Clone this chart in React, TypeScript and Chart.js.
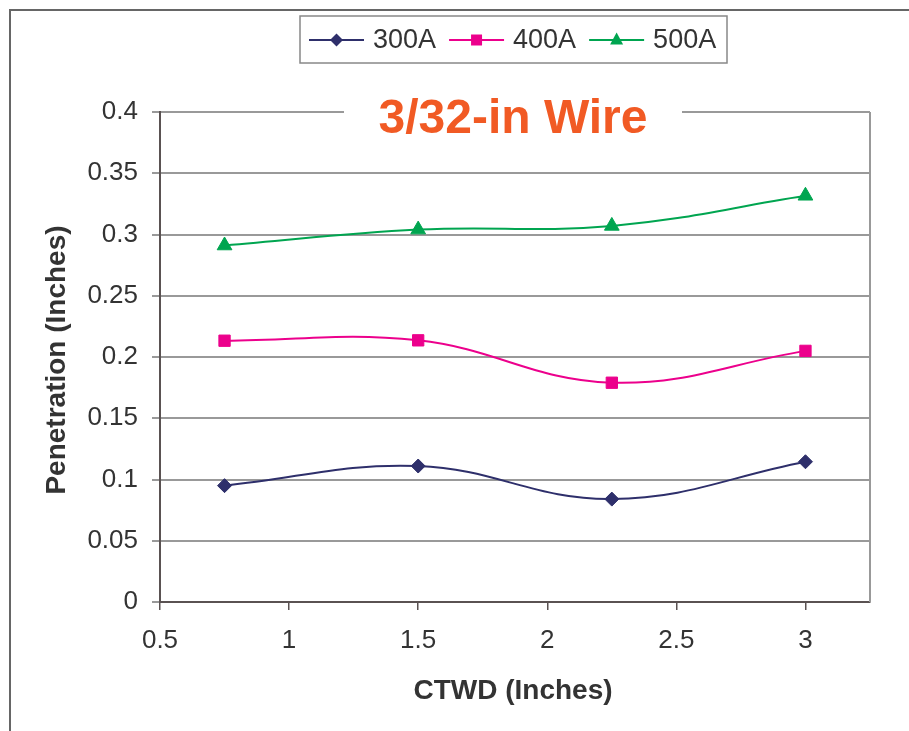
import React, { useEffect, useRef } from 'react';
import { Chart, registerables } from 'chart.js';

Chart.register(...registerables);

// ---- data ----
const ctwd = [0.75, 1.5, 2.25, 3];
const pen300 = [0.095, 0.111, 0.084, 0.1145];
const pen400 = [0.2133, 0.2136, 0.179, 0.205];
const pen500 = [0.291, 0.304, 0.307, 0.3316];
const seriesNames = ['300A', '400A', '500A'];
const seriesColors = ['#2E2F6B', '#EC008C', '#00A550'];
const seriesMarkers = ['rectRot', 'rect', 'triangle'];
const xTickValues = [0.5, 1, 1.5, 2, 2.5, 3];
const yTickValues = [0, 0.05, 0.1, 0.15, 0.2, 0.25, 0.3, 0.35, 0.4];
const chartTitle = '3/32-in Wire';
const xTitle = 'CTWD (Inches)';
const yTitle = 'Penetration (Inches)';

const FONT = "'Liberation Sans', Arial, Helvetica, sans-serif";
const TEXT = '#333333';
const GRID = '#999999';
const AXIS = '#5a5252';

function drawMarker(ctx: CanvasRenderingContext2D, kind: string, x: number, y: number, color: string) {
  ctx.save();
  ctx.fillStyle = color;
  ctx.beginPath();
  if (kind === 'rectRot') {
    const r = 6.5;
    ctx.moveTo(x, y - r);
    ctx.lineTo(x + r, y);
    ctx.lineTo(x, y + r);
    ctx.lineTo(x - r, y);
    ctx.closePath();
  } else if (kind === 'rect') {
    const s = 5.5;
    ctx.rect(x - s, y - s, 2 * s, 2 * s);
  } else {
    const r = 7.5;
    ctx.moveTo(x, y - r);
    ctx.lineTo(x + r * 0.866, y + r * 0.6);
    ctx.lineTo(x - r * 0.866, y + r * 0.6);
    ctx.closePath();
  }
  ctx.fill();
  ctx.restore();
}

const decorPlugin = {
  id: 'decor',
  beforeDraw(chart: any) {
    const ctx = chart.ctx as CanvasRenderingContext2D;
    ctx.save();
    ctx.fillStyle = '#ffffff';
    ctx.fillRect(0, 0, chart.width, chart.height);
    // outer frame (top & left visible)
    ctx.strokeStyle = '#666666';
    ctx.lineWidth = 2;
    ctx.beginPath();
    ctx.moveTo(10, chart.height);
    ctx.lineTo(10, 10);
    ctx.lineTo(chart.width, 10);
    ctx.stroke();
    ctx.restore();
  },
  afterDraw(chart: any) {
    const ctx = chart.ctx as CanvasRenderingContext2D;
    const area = chart.chartArea;
    ctx.save();
    // right border of plot area
    ctx.strokeStyle = GRID;
    ctx.lineWidth = 2;
    ctx.beginPath();
    ctx.moveTo(area.right, area.top);
    ctx.lineTo(area.right, area.bottom);
    ctx.stroke();

    // chart title with white background
    const cx = (area.left + area.right) / 2 - 2;
    ctx.fillStyle = '#ffffff';
    ctx.fillRect(cx - 169, area.top - 22, 338, 48);
    ctx.font = `bold 48px ${FONT}`;
    ctx.fillStyle = '#F15A24';
    ctx.textAlign = 'center';
    ctx.textBaseline = 'alphabetic';
    ctx.fillText(chartTitle, cx, 133);

    // axis titles
    ctx.fillStyle = TEXT;
    ctx.font = `bold 28px ${FONT}`;
    ctx.fillText(xTitle, (area.left + area.right) / 2 - 2, 699);
    ctx.save();
    ctx.translate(65, (area.top + area.bottom) / 2 + 3);
    ctx.rotate(-Math.PI / 2);
    ctx.fillText(yTitle, 0, 0);
    ctx.restore();

    // legend
    ctx.strokeStyle = '#888888';
    ctx.lineWidth = 1.5;
    ctx.strokeRect(300, 16, 427, 47);
    ctx.font = `27px ${FONT}`;
    ctx.textAlign = 'left';
    let x = 309;
    chart.data.datasets.forEach((ds: any, i: number) => {
      ctx.strokeStyle = ds.borderColor;
      ctx.lineWidth = 2;
      ctx.beginPath();
      ctx.moveTo(x, 40);
      ctx.lineTo(x + 55, 40);
      ctx.stroke();
      drawMarker(ctx, seriesMarkers[i], x + 27.5, 40, ds.borderColor);
      ctx.fillStyle = TEXT;
      ctx.fillText(ds.label, x + 64, 48);
      x += 64 + ctx.measureText(ds.label).width + 13;
    });
    ctx.restore();
  },
};

export default function App() {
  const ref = useRef<HTMLCanvasElement | null>(null);

  useEffect(() => {
    document.body.style.margin = '0';
    const canvas = ref.current;
    if (!canvas) return;
    const seriesValues = [pen300, pen400, pen500];
    const chart = new Chart(canvas, {
      type: 'line',
      data: {
        datasets: seriesNames.map((name, i) => ({
          label: name,
          data: ctwd.map((x, j) => ({ x, y: seriesValues[i][j] })),
          borderColor: seriesColors[i],
          backgroundColor: seriesColors[i],
          pointBackgroundColor: seriesColors[i],
          pointBorderColor: seriesColors[i],
          pointStyle: seriesMarkers[i] as any,
          pointRadius: i === 0 ? 7 : i === 1 ? 8 : 8.5,
          pointBorderWidth: 1,
          borderWidth: 2,
          tension: 0.4,
          fill: false,
        })),
      },
      options: {
        animation: false,
        responsive: false,
        devicePixelRatio: 1,
        layout: { padding: { left: 0, right: 39, top: 112, bottom: 0 } },
        plugins: {
          legend: { display: false },
          title: { display: false },
          tooltip: { enabled: false },
        },
        scales: {
          x: {
            type: 'linear',
            min: 0.5,
            max: 3.25,
            afterFit: (s: any) => { s.height = 129; },
            afterBuildTicks: (s: any) => { s.ticks = xTickValues.map((v) => ({ value: v })); },
            ticks: {
              color: TEXT,
              font: { family: FONT, size: 26 },
              padding: 15,
              maxRotation: 0,
              autoSkip: false,
              callback: (v: any) => String(v),
            },
            grid: { drawOnChartArea: false, drawTicks: true, tickLength: 8, tickColor: AXIS, lineWidth: 1.5 },
            border: { color: AXIS, width: 2 },
          },
          y: {
            type: 'linear',
            min: 0,
            max: 0.4,
            afterFit: (s: any) => { s.width = 160; },
            afterBuildTicks: (s: any) => { s.ticks = yTickValues.map((v) => ({ value: v })); },
            ticks: {
              color: TEXT,
              font: { family: FONT, size: 26 },
              padding: 14,
              autoSkip: false,
              callback: (v: any) => String(v),
            },
            grid: { color: GRID, lineWidth: 2, tickLength: 8, tickColor: GRID },
            border: { color: AXIS, width: 2 },
          },
        },
      },
      plugins: [decorPlugin],
    });
    return () => chart.destroy();
  }, []);

  return (
    <div style={{ position: 'fixed', left: 0, top: 0, width: 909, height: 731 }}>
      <canvas ref={ref} width={909} height={731} style={{ display: 'block', width: 909, height: 731 }} />
    </div>
  );
}
